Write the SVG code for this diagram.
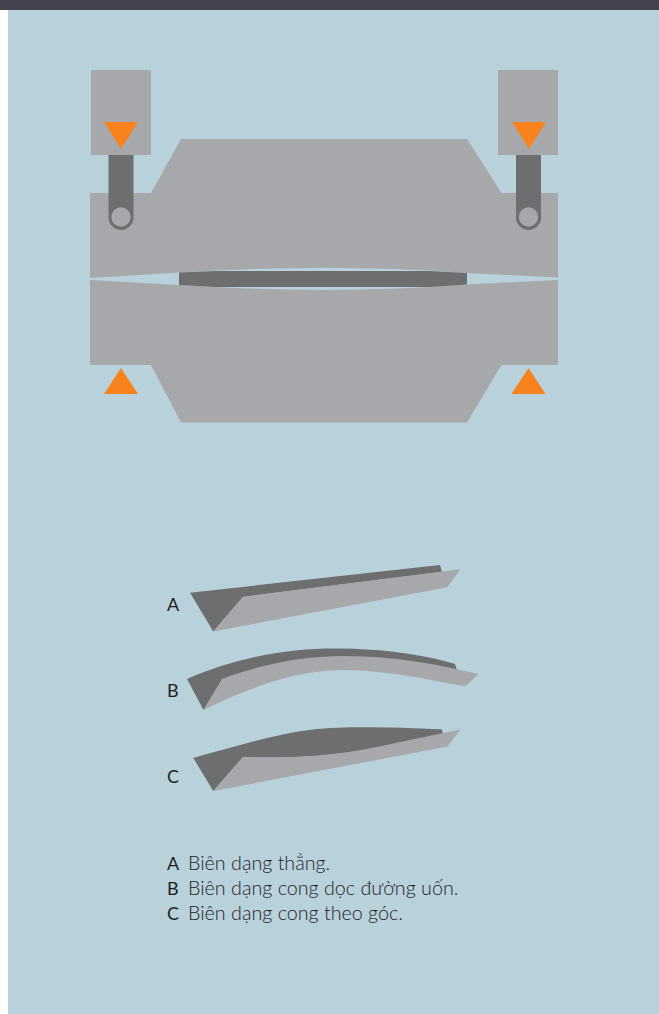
<svg xmlns="http://www.w3.org/2000/svg" width="659" height="1014" viewBox="0 0 659 1014">
<style>
.g{fill:#a7a8ab}
.d{fill:#6d6e70}
.o{fill:#f7821e}
.t{font-family:Lato,"Open Sans",sans-serif;font-size:19.7px;fill:#232327;font-weight:300}
.k{font-family:Lato,"Open Sans",sans-serif;font-size:18px;fill:#1f1f22}
</style>
<rect width="659" height="1014" fill="#ffffff"/>
<rect x="8" y="10" width="651" height="1004" fill="#b9d1db"/>
<rect width="659" height="10" fill="#43434f"/>
<g id="press">
<g id="upper-block"><path class="g" d="M90 193H151L181 139H467L501.500 193H558V277.500L467 273Q400 268 324 267.700Q250 268 179 272.500L90 278Z"/></g>
<g id="lower-block"><path class="g" d="M90 280L179 285Q250 289.500 324 290Q400 289.500 467 284.500L558 280V365H501.500L467 422.500H181L151 365H90Z"/></g>
<g id="sheet"><path class="d" d="M179 272.500L215 271H430L467 273V284.500L430 287H215L179 285Z"/></g>
<g id="left-post">
<rect class="g" x="91" y="70" width="60" height="85"/>
<path class="d" d="M108.500 155H133.500V217.500A12.500 12.500 0 0 1 108.500 217.500Z"/>
<circle class="g" cx="121" cy="217" r="9.700"/>
<path class="o" d="M104 122H138L121 149Z"/>
</g>
<g id="right-post">
<rect class="g" x="498" y="70" width="60" height="85"/>
<path class="d" d="M516 155H541V217.500A12.500 12.500 0 0 1 516 217.500Z"/>
<circle class="g" cx="528.500" cy="217" r="9.700"/>
<path class="o" d="M512 122H546L529 149Z"/>
</g>
<g id="left-support"><path class="o" d="M104 394H138L121 368Z"/></g>
<g id="right-support"><path class="o" d="M511.500 394H545.500L528.500 368Z"/></g>
</g>
<g id="profile-a">
<path class="d" d="M190 592.700L440 565L442 572L243 597L213.300 631.500Z"/>
<path class="g" d="M243 596.700L460.500 569.300L447.300 587.300L213.300 631.500Z"/>
<text class="k" x="167" y="611">A</text>
</g>
<g id="profile-b">
<path class="d" d="M187 679C240 656 290 648.500 335 648.500C385 648.500 425 655 455 664L457 670L340 660L222 680L203.500 710Z"/>
<path class="g" d="M222 679C265 663 305 656 345 656C395 656 440 665 478.500 674L465 686.500C420 678 385 670 340 670C290 671 245 690 203.500 710Z"/>
<text class="k" x="167" y="697">B</text>
</g>
<g id="profile-c">
<path class="d" d="M193.300 758C240 745 280 733 317 729C345 726 395 727 441.700 729.300L443.500 735C375 752 310 760 243 757L213.300 791Z"/>
<path class="g" d="M243 757C300 759 345 755 400 742L460.500 729.500L447.500 746.500L213.300 791Z"/>
<text class="k" x="167" y="783">C</text>
</g>
<g id="legend">
<text class="k" x="167" y="870">A</text><text class="t" x="188" y="870">Biên dạng thẳng.</text>
<text class="k" x="167" y="895">B</text><text class="t" x="188" y="895">Biên dạng cong dọc đường uốn.</text>
<text class="k" x="167" y="920">C</text><text class="t" x="188" y="920">Biên dạng cong theo góc.</text>
</g>
</svg>
